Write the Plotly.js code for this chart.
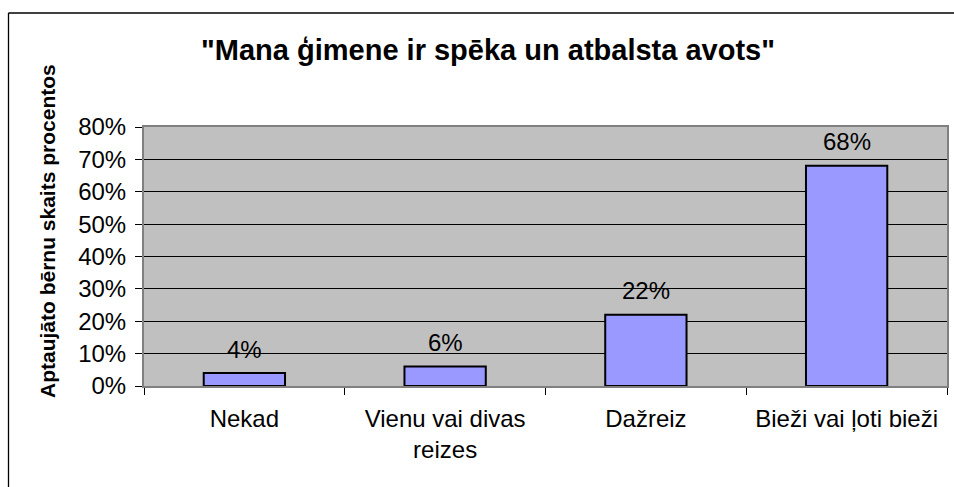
<!DOCTYPE html>
<html>
<head>
<meta charset="utf-8">
<script src="https://cdn.plot.ly/plotly-3.0.1.min.js"></script>
<style>html,body{margin:0;padding:0;background:#fff;}#chart{width:954px;height:487px;}</style>
</head>
<body>
<div id="chart"></div>
<script>
const categories = ["Nekad", "Vienu vai divas<br>reizes", "Dažreiz", "Bieži vai ļoti bieži"];
const values = [0.04, 0.06, 0.22, 0.68];
const valueLabels = ["4%", "6%", "22%", "68%"];
const yTickVals = [0, 0.1, 0.2, 0.3, 0.4, 0.5, 0.6, 0.7, 0.8];
const yTickText = ["0%", "10%", "20%", "30%", "40%", "50%", "60%", "70%", "80%"];
const chartTitle = '"Mana ģimene ir spēka un atbalsta avots"';
const yTitle = "Aptaujāto bērnu skaits procentos";

const W = 954, H = 487;
const L = 144, R = 7, T = 127, B = 101;
const pw = W - L - R, ph = H - T - B;
const px2x = p => (p - L) / pw;
const py2y = p => (H - B - p) / ph;

const font = "Liberation Sans, Arial, sans-serif";

const annotations = categories.map((c, i) => ({
  x: c, y: values[i], xref: 'x', yref: 'y',
  text: valueLabels[i], showarrow: false,
  yanchor: 'middle', yshift: 24,
  font: {family: font, size: 24, color: '#000'}
}));
annotations.push({
  xref: 'paper', yref: 'paper', x: px2x(47), y: py2y(231),
  text: '<b>' + yTitle + '</b>', textangle: -90, showarrow: false,
  xanchor: 'center', yanchor: 'middle',
  font: {family: font, size: 21, color: '#000'}
});

const shapes = [
  {type: 'line', xref: 'paper', yref: 'paper', x0: px2x(8.5), x1: px2x(8.5), y0: py2y(13), y1: py2y(H + 5), line: {color: '#000', width: 1.3}},
  {type: 'line', xref: 'paper', yref: 'paper', x0: px2x(8.5), x1: px2x(W + 5), y0: py2y(13), y1: py2y(13), line: {color: '#000', width: 1.3}}
];

const trace = {
  type: 'bar', x: categories, y: values,
  marker: {color: '#9999ff', line: {color: '#000', width: 2}},
  hoverinfo: 'none'
};

const layout = {
  width: W, height: H,
  margin: {l: L, r: R, t: T, b: B, pad: 0},
  paper_bgcolor: '#fff', plot_bgcolor: '#c0c0c0',
  bargap: 0.595,
  showlegend: false,
  title: {text: '<b>' + chartTitle + '</b>', xref: 'container', yref: 'container', x: 488 / W, y: 1 - 50 / H, xanchor: 'center', yanchor: 'middle', font: {family: font, size: 29, color: '#000'}},
  xaxis: {
    type: 'category', tickson: 'boundaries', ticks: 'outside', ticklen: 7, tickwidth: 1, tickcolor: '#000',
    showline: true, linecolor: '#808080', linewidth: 2, mirror: true,
    showgrid: false, zeroline: false,
    tickfont: {family: font, size: 24, color: '#000'}, ticklabelstandoff: 10,
    automargin: false
  },
  yaxis: {
    range: [0, 0.8], tickvals: yTickVals, ticktext: yTickText,
    ticks: 'outside', ticklen: 7, tickwidth: 1, tickcolor: '#000',
    showline: true, linecolor: '#808080', linewidth: 2, mirror: true,
    showgrid: true, gridcolor: '#000', gridwidth: 1, zeroline: false,
    tickfont: {family: font, size: 24, color: '#000'}, ticklabelstandoff: 4,
    automargin: false
  },
  annotations: annotations,
  shapes: shapes
};

Plotly.newPlot('chart', [trace], layout, {displayModeBar: false, staticPlot: true});
</script>
</body>
</html>
